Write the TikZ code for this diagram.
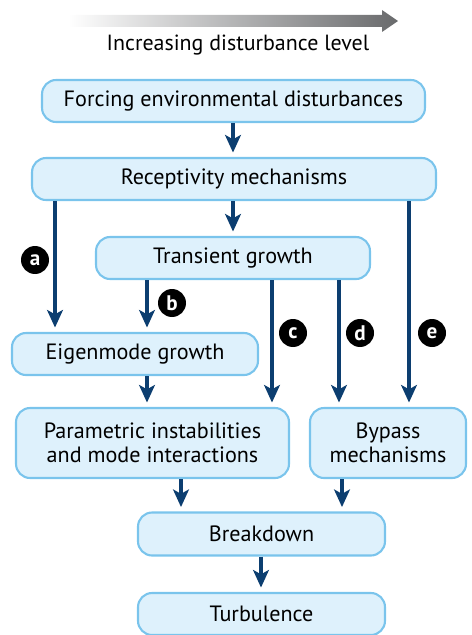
\documentclass[tikz,border=0pt]{standalone}
\usepackage{fontspec}
\setmainfont{PT Sans}
\usetikzlibrary{arrows.meta}
\definecolor{BoxFill}{RGB}{222,241,252}
\definecolor{BoxLine}{RGB}{122,196,236}
\definecolor{FlowBlue}{RGB}{12,62,112}
\definecolor{LevelGray}{RGB}{105,106,108}
\tikzset{
	box/.style={draw=BoxLine,fill=BoxFill,line width=1.2pt,rounded corners=8pt,
		align=center,inner sep=0pt,font=\fontsize{12.6}{13.4}\selectfont},
	flow/.style={draw=FlowBlue,line width=2.2pt,shorten >=2.5pt,
		-{Stealth[length=10pt,width=9pt,inset=2.5pt]}},
	tag/.style={circle,fill=black,text=white,inner sep=0pt,minimum size=0.56cm,
		font=\bfseries\fontsize{12}{12}\selectfont},
}

\begin{document}
\begin{tikzpicture}[x={(0.02cm,0)},y={(0,-0.02cm)}]
	\useasboundingbox (0,0) rectangle (471,635);
	% level arrow
	\shade[left color=white,right color=LevelGray]
		(68,15) -- (382,15) -- (382,10) -- (398,21) -- (382,32) -- (382,27) -- (68,27) -- cycle;
	\node[font=\fontsize{12.5}{15}\selectfont] (lvl) at (238,45) {Increasing disturbance level};
	% boxes
	\node[box,minimum width=7.66cm,minimum height=0.84cm] (frc) at (233.5,101) {Forcing environmental disturbances};
	\node[box,minimum width=8.08cm,minimum height=0.84cm] (rec) at (234,179) {Receptivity mechanisms};
	\node[box,minimum width=5.48cm,minimum height=0.84cm] (trn) at (233,258) {Transient growth};
	\node[box,minimum width=4.92cm,minimum height=0.84cm] (eig) at (135,354) {Eigenmode growth};
	\node[box,minimum width=5.46cm,minimum height=1.4cm] (par) at (152.5,443) {Parametric instabilities\\and mode interactions};
	\node[box,minimum width=3.12cm,minimum height=1.4cm] (byp) at (388,443) {Bypass\\mechanisms};
	\node[box,minimum width=4.94cm,minimum height=0.86cm] (brk) at (261.5,534) {Breakdown};
	\node[box,minimum width=4.94cm,minimum height=0.84cm] (tur) at (261.5,614) {Turbulence};
	% paths
	\foreach \a/\b/\x in {frc/rec/233,rec/trn/233,rec/eig/55,trn/eig/147,trn/par/272,
		trn/byp/339,rec/byp/409,eig/par/147,par/brk/181,byp/brk/342,brk/tur/261}{
		\coordinate (px) at (\x,0);
		\draw[flow] (\a.south -| px) -- (\b.north -| px);
	}
	\foreach \t/\x/\y in {a/35/260,b/172/303,c/293/333,d/360/333,e/432/333}
		\node[tag] (tag\t) at (\x,\y) {\t};
\end{tikzpicture}
\end{document}
